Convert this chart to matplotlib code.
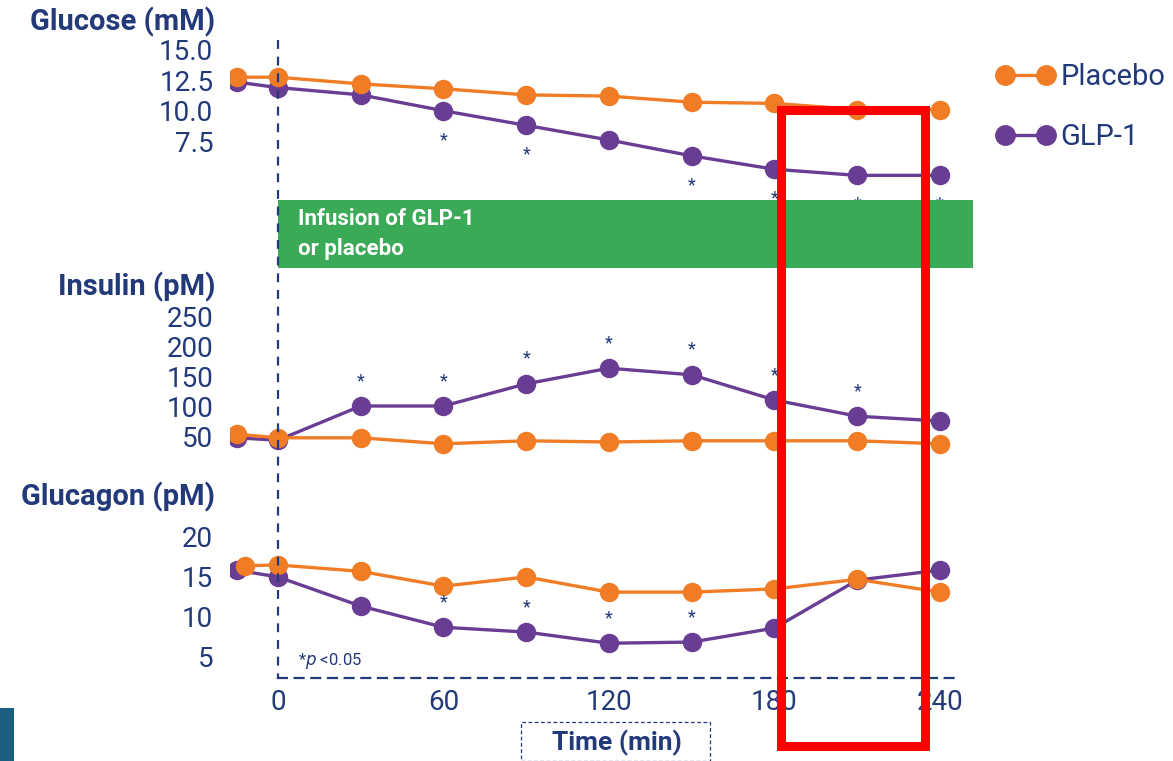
import numpy as np
import matplotlib
matplotlib.use("Agg")
import matplotlib.pyplot as plt
from matplotlib.lines import Line2D
from matplotlib.patches import Rectangle
from matplotlib import transforms

plt.rcParams['font.family'] = ['Roboto', 'DejaVu Sans']

# data
time = [-15, 0, 30, 60, 90, 120, 150, 180, 210, 240]
glucagon_placebo_time = [-12, 0, 30, 60, 90, 120, 150, 180, 210, 240]

glucose_placebo = [12.75, 12.75, 12.2, 11.8, 11.3, 11.2, 10.7, 10.6, 10.1, 10.1]
glucose_glp1 = [12.35, 11.9, 11.3, 10.0, 8.8, 7.6, 6.3, 5.2, 4.7, 4.7]
glucose_sig = [60, 90, 150, 180, 210, 240]

insulin_placebo = [53, 47, 47, 37, 42, 40, 42, 42, 42, 37]
insulin_glp1 = [47, 43, 100, 100, 137, 163, 152, 110, 83, 75]
insulin_sig = [30, 60, 90, 120, 150, 180, 210]

glucagon_placebo = [16.3, 16.4, 15.6, 13.75, 14.9, 13.0, 13.0, 13.4, 14.6, 13.0]
glucagon_glp1 = [15.75, 14.9, 11.25, 8.6, 8.0, 6.6, 6.75, 8.5, 14.5, 15.75]
glucagon_sig = [60, 90, 120, 150]

glucose_ticks = [7.5, 10.0, 12.5, 15.0]
insulin_ticks = [50, 100, 150, 200, 250]
glucagon_ticks = [5, 10, 15, 20]
time_ticks = [0, 60, 120, 180, 240]

ORANGE = '#F07D26'
PURPLE = '#6A3D94'
NAVY = '#22397A'
GREEN = '#3AAA57'

W, H = 1173, 761
fig = plt.figure(figsize=(W / 100, H / 100), dpi=100)


def px_axes(x0, y0, x1, y1):
    # pixel box (top-left origin) -> figure fraction axes
    return fig.add_axes([x0 / W, 1 - y1 / H, (x1 - x0) / W, (y1 - y0) / H])


xlim = (-17.4, 252.7)
ax_glu = px_axes(230, 40, 975, 190)
ax_ins = px_axes(230, 300, 975, 460)
ax_gcg = px_axes(230, 525, 975, 678)
ax_glu.set_ylim(3.5, 15.8)
ax_ins.set_ylim(10, 276.7)
ax_gcg.set_ylim(2.25, 21.4)

panels = [
    (ax_glu, time, glucose_placebo, glucose_glp1, glucose_sig, glucose_ticks, '{:.1f}', -21),
    (ax_ins, time, insulin_placebo, insulin_glp1, insulin_sig, insulin_ticks, '{:d}', 18),
    (ax_gcg, glucagon_placebo_time, glucagon_placebo, glucagon_glp1, glucagon_sig,
     glucagon_ticks, '{:d}', 18),
]

for ax, ptime, plac, glp, sig, ticks, fmt, off in panels:
    ax.set_xlim(*xlim)
    ax.patch.set_alpha(0)
    for s in ax.spines.values():
        s.set_visible(False)
    ax.plot(ptime, plac, color=ORANGE, lw=2.4, marker='o', ms=13, zorder=3,
            label='Placebo')
    ax.plot(time, glp, color=PURPLE, lw=2.4, marker='o', ms=13, zorder=2,
            label='GLP-1')
    for t in sig:
        v = glp[time.index(t)]
        ax.annotate('*', (t, v), xytext=(0, off), textcoords='offset points',
                    ha='center', va='center', fontsize=13, color=NAVY)
    ax.set_yticks(ticks)
    ax.set_yticklabels([fmt.format(t) for t in ticks])
    ax.tick_params(axis='y', length=0, pad=12, labelsize=20, labelcolor=NAVY)
    ax.tick_params(axis='x', length=0, labelbottom=False)

ax_gcg.set_xticks(time_ticks)
ax_gcg.tick_params(axis='x', labelbottom=True, labelsize=20, labelcolor=NAVY, pad=8)
ax_gcg.spines['bottom'].set_visible(True)
ax_gcg.spines['bottom'].set_bounds(0, 245)
ax_gcg.spines['bottom'].set_linestyle((0, (4, 3.5)))
ax_gcg.spines['bottom'].set_linewidth(1.6)
ax_gcg.spines['bottom'].set_color(NAVY)

# dashed line at infusion start
trans = transforms.blended_transform_factory(ax_glu.transData, fig.transFigure)
fig.add_artist(Line2D([0, 0], [1 - 40 / H, 1 - 678 / H], transform=trans,
                      color=NAVY, lw=1.6, ls=(0, (4, 3.5))))

# infusion bar
fig.add_artist(Rectangle((0, 1 - 268 / H), 252.0, 68 / H, transform=trans,
                         facecolor=GREEN, edgecolor='none'))
fig.text(298 / W, 1 - 234 / H, 'Infusion of GLP-1\nor placebo', color='white',
         fontsize=16, fontweight='bold', ha='left', va='center', linespacing=1.45)

# panel titles
for label, y in [('Glucose (mM)', 22), ('Insulin (pM)', 287), ('Glucagon (pM)', 497)]:
    fig.text(215 / W, 1 - y / H, label, color=NAVY, fontsize=21,
             fontweight='bold', ha='right', va='center')

fig.text(298 / W, 1 - 661 / H, r'*$\it{p}$ <0.05', color=NAVY, fontsize=12,
         ha='left', va='center')

# time axis label box
fig.add_artist(Rectangle((521 / W, 0), 189 / W, 1 - 722 / H, transform=fig.transFigure,
                         facecolor='none', edgecolor=NAVY, lw=0.9, ls=(0, (3, 2))))
fig.text(617 / W, 1 - 743 / H, 'Time (min)', color=NAVY, fontsize=19,
         fontweight='bold', ha='center', va='center')

# legend
handles = [Line2D([0], [0], color=ORANGE, lw=2.4, marker='o', ms=14),
           Line2D([0], [0], color=PURPLE, lw=2.4, marker='o', ms=14)]
fig.legend(handles, ['Placebo', 'GLP-1'], loc='upper left',
           bbox_to_anchor=(996 / W, 1 - 63 / H), frameon=False, numpoints=2,
           handlelength=2.0, handletextpad=0.2, labelspacing=1.1,
           prop={'size': 21}, labelcolor=NAVY, borderaxespad=0, borderpad=0)

# red highlight box
fig.add_artist(Rectangle((781 / W, 1 - 746 / H), 144 / W, 636 / H,
                         transform=fig.transFigure, facecolor='none',
                         edgecolor='#FF0000', lw=6.5, zorder=10))

# slide corner block
fig.add_artist(Rectangle((0, 0), 14 / W, 53 / H, transform=fig.transFigure,
                         facecolor='#1A5F80', edgecolor='none'))

fig.savefig('out.png', dpi=100)
